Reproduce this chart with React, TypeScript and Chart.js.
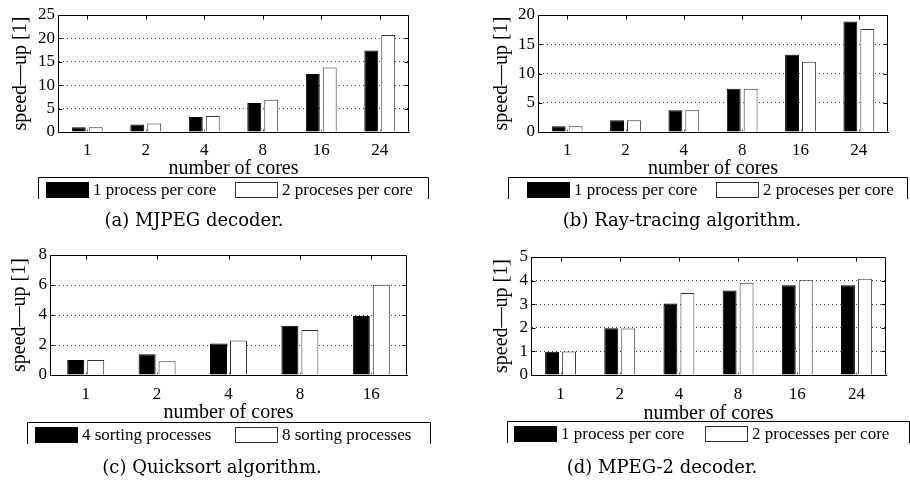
import React, { useEffect, useRef } from 'react';
import { Chart, registerables } from 'chart.js';

Chart.register(...registerables);

const SERIF = '"Liberation Serif", "Times New Roman", serif';
const CAPTION_FONT = '"DejaVu Serif", serif';

// ---------- data ----------
// (a) MJPEG decoder
const mjpegCores = ['1', '2', '4', '8', '16', '24'];
const mjpegOnePerCore = [1.0, 1.6, 3.2, 6.2, 12.4, 17.4];
const mjpegTwoPerCore = [1.0, 1.8, 3.4, 6.9, 13.8, 20.7];
const mjpegSeries = ['1 process per core', '2 proceses per core'];
const mjpegYTicks = [0, 5, 10, 15, 20, 25];

// (b) Ray-tracing algorithm
const rayCores = ['1', '2', '4', '8', '16', '24'];
const rayOnePerCore = [1.0, 2.0, 3.7, 7.4, 13.2, 18.9];
const rayTwoPerCore = [1.0, 2.0, 3.7, 7.4, 12.0, 17.6];
const raySeries = ['1 process per core', '2 proceses per core'];
const rayYTicks = [0, 5, 10, 15, 20];

// (c) Quicksort algorithm
const sortCores = ['1', '2', '4', '8', '16'];
const sortFourProcs = [1.0, 1.39, 2.1, 3.28, 3.93];
const sortEightProcs = [1.0, 0.92, 2.3, 3.0, 6.01];
const sortSeries = ['4 sorting processes', '8 sorting processes'];
const sortYTicks = [0, 2, 4, 6, 8];

// (d) MPEG-2 decoder
const mpegCores = ['1', '2', '4', '8', '16', '24'];
const mpegOnePerCore = [0.99, 1.98, 3.03, 3.58, 3.8, 3.8];
const mpegTwoPerCore = [1.0, 1.97, 3.47, 3.91, 4.02, 4.08];
const mpegSeries = ['1 process per core', '2 processes per core'];
const mpegYTicks = [0, 1, 2, 3, 4, 5];

const X_TITLE = 'number of cores';
const Y_TITLE = 'speed—up [1]';

// ---------- layout ----------
const PW = 455;
const PH = 240;

type Layout = {
  ox: number; oy: number;
  plot: { l: number; r: number; t: number; b: number };
  xBottom: number; xTickPad: number; yTickPad: number; yTitleX: number;
  cp: number; bp: number;
  legend: { l: number; r: number; t: number; b: number; items: number[] };
  cap: { cx: number; cy: number };
};

type Spec = {
  labels: string[];
  series: number[][];
  names: string[];
  yTicks: number[];
  caption: string;
  layout: Layout;
};

const panels: Spec[] = [
  {
    labels: mjpegCores, series: [mjpegOnePerCore, mjpegTwoPerCore], names: mjpegSeries,
    yTicks: mjpegYTicks, caption: '(a) MJPEG decoder.',
    layout: {
      ox: 0, oy: 0, plot: { l: 58, r: 409, t: 15, b: 132 }, xBottom: 181, xTickPad: 0, yTickPad: 3, yTitleX: 21,
      cp: 0.58, bp: 0.82,
      legend: { l: 38, r: 428, t: 177, b: 199, items: [46, 235] }, cap: { cx: 194, cy: 220 },
    },
  },
  {
    labels: rayCores, series: [rayOnePerCore, rayTwoPerCore], names: raySeries,
    yTicks: rayYTicks, caption: '(b) Ray-tracing algorithm.',
    layout: {
      ox: 455, oy: 0, plot: { l: 83, r: 433, t: 15, b: 132 }, xBottom: 181, xTickPad: 0, yTickPad: 3, yTitleX: 47,
      cp: 0.58, bp: 0.82,
      legend: { l: 53, r: 452, t: 177, b: 199, items: [72, 261] }, cap: { cx: 227, cy: 220 },
    },
  },
  {
    labels: sortCores, series: [sortFourProcs, sortEightProcs], names: sortSeries,
    yTicks: sortYTicks, caption: '(c) Quicksort algorithm.',
    layout: {
      ox: 0, oy: 240, plot: { l: 50, r: 407, t: 15, b: 135 }, xBottom: 185, xTickPad: 1, yTickPad: 3, yTitleX: 20,
      cp: 0.56, bp: 0.85,
      legend: { l: 27, r: 430, t: 182, b: 204, items: [35, 235] }, cap: { cx: 212, cy: 227 },
    },
  },
  {
    labels: mpegCores, series: [mpegOnePerCore, mpegTwoPerCore], names: mpegSeries,
    yTicks: mpegYTicks, caption: '(d) MPEG-2 decoder.',
    layout: {
      ox: 455, oy: 240, plot: { l: 76, r: 431, t: 17, b: 135 }, xBottom: 186, xTickPad: 1, yTickPad: 3, yTitleX: 47,
      cp: 0.574, bp: 0.82,
      legend: { l: 52, r: 454, t: 181, b: 203, items: [59, 250] }, cap: { cx: 207, cy: 227 },
    },
  },
];

// ---------- plugins ----------
const framePlugin = {
  id: 'frame',
  afterDraw(chart: any) {
    const { ctx, chartArea: a, scales } = chart;
    const xs = scales.x;
    const ys = scales.y;
    const top = Math.round(a.top) + 0.5;
    const bottom = Math.round(a.bottom) - 0.5;
    const left = Math.round(a.left) + 0.5;
    const right = Math.round(a.right) - 0.5;
    const len = 4;
    ctx.save();
    ctx.strokeStyle = '#000';
    ctx.lineWidth = 1;
    ctx.setLineDash([]);
    ctx.beginPath();
    ctx.moveTo(left, top);
    ctx.lineTo(right, top);
    ctx.lineTo(right, bottom);
    xs.ticks.forEach((_t: any, i: number) => {
      const px = Math.round(xs.getPixelForTick(i)) + 0.5;
      ctx.moveTo(px, top);
      ctx.lineTo(px, top + len);
    });
    ys.ticks.forEach((_t: any, i: number) => {
      const py = Math.round(ys.getPixelForTick(i)) + 0.5;
      ctx.moveTo(left, py);
      ctx.lineTo(left + len, py);
      ctx.moveTo(right, py);
      ctx.lineTo(right - len, py);
    });
    ctx.stroke();
    // short inward ticks at the base between the bars
    ctx.strokeStyle = '#666';
    ctx.beginPath();
    xs.ticks.forEach((_t: any, i: number) => {
      const px = Math.round(xs.getPixelForTick(i)) + 0.5;
      ctx.moveTo(px, bottom);
      ctx.lineTo(px, bottom - 2);
    });
    ctx.stroke();
    ctx.restore();
  },
};

const boxLegendPlugin = {
  id: 'boxLegend',
  afterDraw(chart: any, _args: any, opts: any) {
    const { ctx } = chart;
    const { l, r, t, b, items } = opts.box;
    ctx.save();
    ctx.setLineDash([]);
    ctx.strokeStyle = '#000';
    ctx.lineWidth = 1;
    ctx.beginPath();
    ctx.moveTo(l + 0.5, b);
    ctx.lineTo(l + 0.5, t + 0.5);
    ctx.lineTo(r + 0.5, t + 0.5);
    ctx.lineTo(r + 0.5, b);
    ctx.stroke();
    const swW = 43;
    const swH = 16;
    const swT = t + 5;
    ctx.font = `17px ${SERIF}`;
    ctx.textBaseline = 'middle';
    ctx.textAlign = 'left';
    chart.data.datasets.forEach((ds: any, i: number) => {
      const x = items[i];
      ctx.fillStyle = ds.backgroundColor;
      ctx.fillRect(x, swT, swW, swH);
      ctx.strokeStyle = ds.borderColor;
      ctx.strokeRect(x + 0.5, swT + 0.5, swW - 1, swH - 1);
      ctx.fillStyle = '#000';
      ctx.fillText(ds.label, x + swW + 4, swT + swH / 2 + 1);
    });
    ctx.restore();
  },
};

function Panel({ spec }: { spec: Spec }) {
  const ref = useRef<HTMLCanvasElement>(null);
  useEffect(() => {
    const L = spec.layout;
    const tickFont = { family: SERIF, size: 17 };
    const titleFont = { family: SERIF, size: 20 };
    const yt = spec.yTicks;
    const chart = new Chart(ref.current as HTMLCanvasElement, {
      type: 'bar',
      data: {
        labels: spec.labels,
        datasets: [
          {
            label: spec.names[0], data: spec.series[0],
            backgroundColor: '#000', borderColor: '#000', borderWidth: 1,
            categoryPercentage: L.cp, barPercentage: L.bp,
          },
          {
            label: spec.names[1], data: spec.series[1],
            backgroundColor: '#fff', borderColor: '#333', borderWidth: 1,
            categoryPercentage: L.cp, barPercentage: L.bp,
          },
        ],
      },
      options: {
        animation: false,
        responsive: false,
        events: [],
        layout: {
          padding: { left: 0, top: L.plot.t, right: PW - L.plot.r, bottom: PH - L.xBottom },
        },
        plugins: {
          legend: { display: false },
          tooltip: { enabled: false },
          boxLegend: { box: L.legend },
        } as any,
        scales: {
          x: {
            grid: { display: false },
            border: { display: true, color: '#000', width: 1 },
            ticks: { font: tickFont, color: '#000', padding: L.xTickPad, maxRotation: 0, autoSkip: false },
            title: { display: true, text: X_TITLE, font: titleFont, color: '#000', padding: 0 },
            afterFit: (s: any) => { s.height = L.xBottom - L.plot.b; },
          },
          y: {
            min: yt[0],
            max: yt[yt.length - 1],
            ticks: { stepSize: yt[1] - yt[0], autoSkip: false, font: tickFont, color: '#000', padding: L.yTickPad },
            grid: { color: '#444', lineWidth: 1, drawTicks: false },
            border: { display: true, color: '#000', width: 1, dash: [1, 3] },
            title: { display: true, text: Y_TITLE, font: titleFont, color: '#000', padding: { top: L.yTitleX - 12, bottom: 0 } },
            afterFit: (s: any) => { s.width = L.plot.l; },
          },
        } as any,
      },
      plugins: [framePlugin, boxLegendPlugin],
    });
    return () => chart.destroy();
  }, [spec]);

  const L = spec.layout;
  return (
    <div style={{ position: 'absolute', left: L.ox, top: L.oy, width: PW, height: PH }}>
      <canvas ref={ref} width={PW} height={PH} style={{ width: PW, height: PH, display: 'block' }} />
      <div
        style={{
          position: 'absolute', left: L.cap.cx - 200, width: 400, top: L.cap.cy - 11,
          height: 22, lineHeight: '22px', textAlign: 'center',
          fontFamily: CAPTION_FONT, fontSize: 18, color: '#000', whiteSpace: 'nowrap',
        }}
      >
        {spec.caption}
      </div>
    </div>
  );
}

export default function App() {
  return (
    <div style={{ position: 'fixed', left: 0, top: 0, width: 910, height: 480, background: '#fff' }}>
      {panels.map((p, i) => <Panel key={i} spec={p} />)}
    </div>
  );
}
